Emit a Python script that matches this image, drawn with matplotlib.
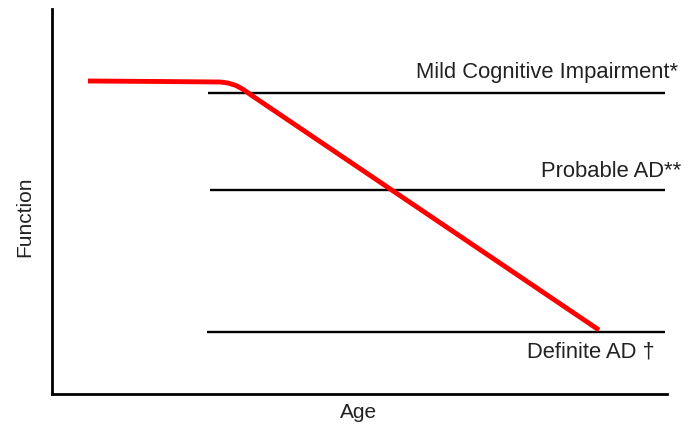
import matplotlib
matplotlib.use('Agg')
from matplotlib import pyplot as plt

# schematic: age (0-100) vs function (0-100)
decline_age = [5.85, 17.56, 27.32, 28.62, 29.92, 31.06, 32.20, 88.94]
decline_func = [81.30, 81.17, 81.04, 80.78, 80.13, 79.14, 77.84, 16.62]

level_names = ['Mild Cognitive Impairment*', 'Probable AD**', 'Definite AD \u2020']
level_func = [78.2, 53.0, 16.1]
level_start = [25.4, 25.7, 25.2]
level_end = [99.7, 99.7, 99.7]
# where each label sits (right edge, vertical centre)
label_x = [101.8, 102.3, 98.0]
label_y = [83.4, 57.7, 10.9]

plt.rcParams['font.family'] = ['Liberation Sans', 'DejaVu Sans']

fig = plt.figure(figsize=(6.96, 4.28), dpi=100)
ax = fig.add_axes([52 / 696, 1 - 394 / 428, 615 / 696, 385 / 428])

for f, x0, x1 in zip(level_func, level_start, level_end):
    ax.plot([x0, x1], [f, f], color='black', lw=1.7, solid_capstyle='butt')

ax.plot(decline_age, decline_func, color='#ff0000', lw=3.5,
        solid_capstyle='butt', solid_joinstyle='round')

for name, x, y in zip(level_names, label_x, label_y):
    ax.text(x, y, name, ha='right', va='center', fontsize=15.8, color='#222222')

ax.set_xlim(0, 100)
ax.set_ylim(0, 100)
ax.set_xticks([])
ax.set_yticks([])
ax.spines['top'].set_visible(False)
ax.spines['right'].set_visible(False)
ax.spines['left'].set_linewidth(2)
ax.spines['bottom'].set_linewidth(2)
ax.set_xlabel('Age', fontsize=15, color='#222222', va='center')
ax.xaxis.set_label_coords(0.499, -0.047)
ax.set_ylabel('Function', fontsize=15, color='#222222', va='center')
ax.yaxis.set_label_coords(-0.044, 0.46)

fig.savefig('out.png', dpi=100)
